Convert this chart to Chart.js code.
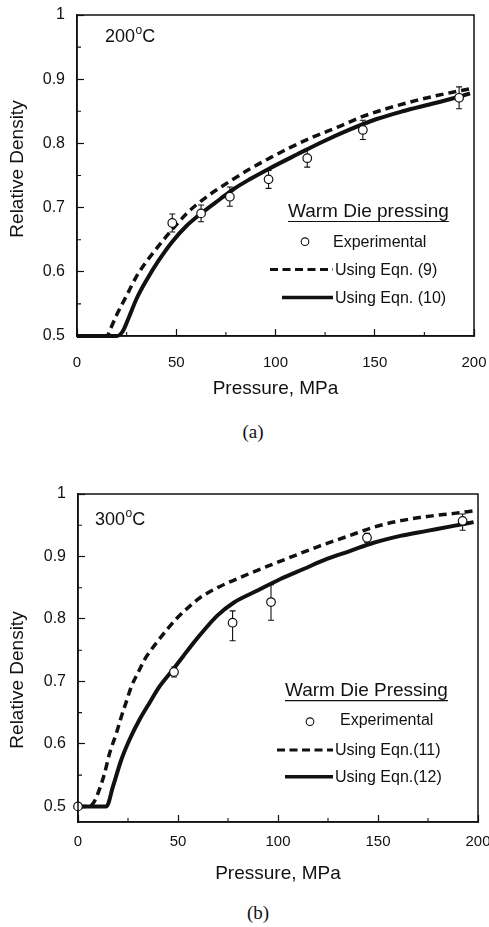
<!DOCTYPE html>
<html>
<head>
<meta charset="utf-8">
<script src="https://cdn.jsdelivr.net/npm/chart.js@4.4.0/dist/chart.umd.min.js"></script>
<style>
  html, body { margin: 0; padding: 0; background: #fff; }
  body { width: 489px; height: 927px; position: relative; overflow: hidden; }
  canvas { position: absolute; left: 0; }
  #chartA { top: 0; }
  #chartB { top: 463px; }
  .cap { position: absolute; font-family: 'Liberation Serif', 'Times New Roman', serif; font-size: 19px; color: #111; transform: translate(-50%, -50%); }
</style>
</head>
<body>
<canvas id="chartA" width="489" height="410"></canvas>
<canvas id="chartB" width="489" height="437"></canvas>
<div class="cap" style="left:253px;top:432px">(a)</div>
<div class="cap" style="left:258px;top:913px">(b)</div>
<script>
// --- (a) 200°C ---
const pressA = [48, 62.5, 77, 96.5, 116, 144, 192.5];
const densA  = [0.676, 0.691, 0.717, 0.744, 0.777, 0.821, 0.871];
const errA   = [0.014, 0.013, 0.015, 0.014, 0.014, 0.015, 0.017];
const eq9P  = [0, 15, 17, 20, 25, 30, 35, 40, 45, 50, 55, 60, 65, 70, 77, 87, 97, 107, 119, 131, 144, 158, 171, 185, 198];
const eq9D  = [0.5, 0.5, 0.512, 0.533, 0.563, 0.593, 0.616, 0.636, 0.655, 0.673, 0.690, 0.704, 0.716, 0.727, 0.741, 0.760, 0.777, 0.793, 0.810, 0.825, 0.842, 0.856, 0.867, 0.877, 0.885];
const eq10P = [0, 20, 23, 26, 30, 35, 41, 48, 55, 63, 72, 79, 87, 97, 111, 124, 137, 151, 164, 178, 193, 198];
const eq10D = [0.5, 0.5, 0.507, 0.528, 0.558, 0.587, 0.617, 0.647, 0.671, 0.692, 0.713, 0.729, 0.744, 0.761, 0.783, 0.803, 0.821, 0.838, 0.850, 0.861, 0.873, 0.878];

// --- (b) 300°C ---
const pressB = [0, 48, 77.3, 96.5, 144.5, 192.3];
const densB  = [0.5, 0.715, 0.794, 0.827, 0.930, 0.957];
const errBLo = [0, 0.008, 0.029, 0.029, 0.007, 0.015];
const errBHi = [0, 0.008, 0.019, 0.028, 0.007, 0.011];
const eq11P = [0, 6, 8, 10, 13.3, 15.8, 19.2, 21.7, 24.2, 26.7, 30, 33.3, 36.7, 40, 45, 50, 55, 61, 71, 83, 94.5, 108, 121, 134.5, 148, 161, 174.5, 188, 198];
const eq11D = [0.5, 0.5, 0.507, 0.521, 0.553, 0.585, 0.617, 0.644, 0.668, 0.692, 0.714, 0.735, 0.751, 0.765, 0.785, 0.803, 0.818, 0.834, 0.852, 0.869, 0.884, 0.901, 0.917, 0.932, 0.947, 0.957, 0.964, 0.969, 0.973];
const eq12P = [0, 14.2, 17.5, 21.7, 25.8, 30.8, 35.8, 40.8, 47.5, 52.5, 58.3, 63, 69.5, 77.8, 89.5, 101.2, 112.8, 124.5, 136.2, 147.8, 161.2, 174.5, 187.8, 197.8];
const eq12D = [0.5, 0.5, 0.532, 0.575, 0.607, 0.639, 0.666, 0.692, 0.719, 0.740, 0.764, 0.782, 0.805, 0.826, 0.845, 0.864, 0.880, 0.896, 0.909, 0.922, 0.933, 0.941, 0.949, 0.955];

// axis ticks
const xTicks = [0, 50, 100, 150, 200];
const xMinor = [25, 75, 125, 175];
const yTicks = [0.5, 0.6, 0.7, 0.8, 0.9, 1];
const yMinor = [0.55, 0.65, 0.75, 0.85, 0.95];

const INK = '#111';
const SANS = "'Liberation Sans', Arial, Helvetica, sans-serif";

const zip = (xs, ys) => xs.map((v, i) => ({ x: v, y: ys[i] }));

// error bars, frame, minor ticks, labels and legend
const panelDecor = {
  id: 'panelDecor',
  beforeDatasetDraw(chart, args, o) {
    if (args.index !== 0) return;
    const { x, y } = chart.scales;
    const ctx = chart.ctx;
    ctx.save();
    ctx.strokeStyle = INK;
    ctx.lineWidth = 1.1;
    o.press.forEach((p, i) => {
      const lo = o.errLo[i], hi = o.errHi[i];
      if (!lo && !hi) return;
      const px = x.getPixelForValue(p);
      const y1 = y.getPixelForValue(o.dens[i] + hi);
      const y2 = y.getPixelForValue(o.dens[i] - lo);
      ctx.beginPath();
      ctx.moveTo(px, y1); ctx.lineTo(px, y2);
      ctx.moveTo(px - 3, y1); ctx.lineTo(px + 3, y1);
      ctx.moveTo(px - 3, y2); ctx.lineTo(px + 3, y2);
      ctx.stroke();
    });
    ctx.restore();
  },
  afterDraw(chart, args, o) {
    const { ctx, chartArea: a } = chart;
    const { x, y } = chart.scales;
    ctx.save();
    ctx.strokeStyle = INK;
    ctx.fillStyle = INK;
    // frame
    ctx.lineWidth = 1.5;
    ctx.strokeRect(a.left, a.top, a.right - a.left, a.bottom - a.top);
    // minor ticks
    ctx.lineWidth = 1.1;
    ctx.beginPath();
    xMinor.forEach(v => {
      const px = x.getPixelForValue(v);
      ctx.moveTo(px, a.bottom); ctx.lineTo(px, a.bottom - 4);
    });
    yMinor.forEach(v => {
      const py = y.getPixelForValue(v);
      ctx.moveTo(a.left, py); ctx.lineTo(a.left + 4, py);
    });
    ctx.stroke();

    // y title
    ctx.save();
    ctx.translate(o.yTitle[0], o.yTitle[1]);
    ctx.rotate(-Math.PI / 2);
    ctx.font = `19px ${SANS}`;
    ctx.textAlign = 'center';
    ctx.textBaseline = 'middle';
    ctx.fillText('Relative Density', 0, 0);
    ctx.restore();

    // temperature label
    ctx.textAlign = 'left';
    ctx.textBaseline = 'alphabetic';
    let tx = o.temp.x;
    ctx.font = `18px ${SANS}`;
    ctx.fillText(o.temp.text, tx, o.temp.base);
    tx += ctx.measureText(o.temp.text).width + 0.5;
    ctx.font = `12px ${SANS}`;
    ctx.fillText('o', tx, o.temp.base - 8);
    tx += ctx.measureText('o').width;
    ctx.font = `18px ${SANS}`;
    ctx.fillText('C', tx, o.temp.base);

    // legend
    const L = o.legend;
    ctx.font = `19px ${SANS}`;
    ctx.fillText(L.title, L.x, L.base);
    const tw = ctx.measureText(L.title).width;
    ctx.lineWidth = 1.2;
    ctx.beginPath();
    ctx.moveTo(L.x, L.under); ctx.lineTo(L.x + tw, L.under);
    ctx.stroke();
    ctx.font = `16px ${SANS}`;
    L.rows.forEach(r => {
      if (r.kind === 'circle') {
        ctx.lineWidth = 1.1;
        ctx.beginPath();
        ctx.arc(r.mx, r.my, 3.8, 0, Math.PI * 2);
        ctx.stroke();
      } else {
        ctx.lineWidth = r.kind === 'dash' ? 3 : 3.5;
        ctx.setLineDash(r.kind === 'dash' ? [8, 4.5] : []);
        ctx.beginPath();
        ctx.moveTo(r.x1, r.my); ctx.lineTo(r.x2, r.my);
        ctx.stroke();
        ctx.setLineDash([]);
      }
      ctx.fillText(r.text, r.tx, r.base);
    });
    ctx.restore();
  }
};

function makeChart(id, c) {
  return new Chart(document.getElementById(id), {
    type: 'line',
    data: {
      datasets: [
        { label: 'Experimental', data: zip(c.press, c.dens), showLine: false, order: 0,
          pointStyle: 'circle', pointRadius: 4.3, pointBorderWidth: 1.2,
          pointBorderColor: INK, pointBackgroundColor: '#fff', clip: false },
        { label: c.dashLabel, data: zip(c.dashP, c.dashD), order: 1,
          borderColor: INK, borderWidth: 3.5, borderDash: [8, 5], pointRadius: 0,
          cubicInterpolationMode: 'monotone', clip: false },
        { label: c.solidLabel, data: zip(c.solidP, c.solidD), order: 2,
          borderColor: INK, borderWidth: 4, pointRadius: 0,
          cubicInterpolationMode: 'monotone', clip: false }
      ]
    },
    options: {
      responsive: false,
      animation: false,
      events: [],
      layout: { padding: { top: c.padTop, right: c.padRight, left: 0, bottom: 0 } },
      plugins: {
        legend: { display: false },
        tooltip: { enabled: false },
        panelDecor: c.decor
      },
      scales: {
        x: {
          type: 'linear', min: 0, max: 200,
          afterBuildTicks: s => { s.ticks = xTicks.map(v => ({ value: v })); },
          afterFit: s => { s.height = c.xAxisH; s.paddingLeft = 0; s.paddingRight = 0; },
          grid: { drawOnChartArea: false, tickLength: -7, tickWidth: 1.2, tickColor: INK },
          border: { color: INK, width: 1.5 },
          ticks: { color: INK, font: { family: SANS, size: 15 }, padding: c.xTickPad,
                   maxRotation: 0, autoSkip: false, callback: v => String(v) },
          title: { display: true, text: 'Pressure, MPa', color: INK,
                   font: { family: SANS, size: 19 }, padding: { top: 0, bottom: c.xTitlePad } }
        },
        y: {
          type: 'linear', min: c.yMin, max: 1,
          afterBuildTicks: s => { s.ticks = yTicks.map(v => ({ value: v })); },
          afterFit: s => { s.width = c.yAxisW; s.paddingTop = 0; s.paddingBottom = 0; },
          grid: { drawOnChartArea: false, tickLength: -7, tickWidth: 1.2, tickColor: INK },
          border: { color: INK, width: 1.5 },
          ticks: { color: INK, font: { family: SANS, size: 16 }, padding: 19, autoSkip: false,
                   callback: v => v === 1 ? '1' : v.toFixed(1) }
        }
      }
    },
    plugins: [panelDecor]
  });
}

makeChart('chartA', {
  press: pressA, dens: densA,
  dashP: eq9P, dashD: eq9D, dashLabel: 'Using Eqn. (9)',
  solidP: eq10P, solidD: eq10D, solidLabel: 'Using Eqn. (10)',
  yMin: 0.5, padTop: 15, padRight: 15, xAxisH: 74, yAxisW: 77, xTickPad: 25, xTitlePad: 9.6,
  decor: {
    press: pressA, dens: densA, errLo: errA, errHi: errA,
    yTitle: [18, 169],
    temp: { text: '200', x: 105, base: 41.7 },
    legend: {
      title: 'Warm Die pressing', x: 288, base: 217, under: 221.5,
      rows: [
        { kind: 'circle', mx: 305, my: 241.7, tx: 333, base: 247, text: 'Experimental' },
        { kind: 'dash', x1: 270, x2: 333, my: 269.5, tx: 335, base: 275, text: 'Using Eqn. (9)' },
        { kind: 'solid', x1: 282, x2: 333, my: 297.5, tx: 335, base: 303, text: 'Using Eqn. (10)' }
      ]
    }
  }
});

makeChart('chartB', {
  press: pressB, dens: densB,
  dashP: eq11P, dashD: eq11D, dashLabel: 'Using Eqn.(11)',
  solidP: eq12P, solidD: eq12D, solidLabel: 'Using Eqn.(12)',
  yMin: 0.475, padTop: 31, padRight: 11, xAxisH: 78, yAxisW: 78, xTickPad: 18, xTitlePad: 14.6,
  decor: {
    press: pressB, dens: densB, errLo: errBLo, errHi: errBHi,
    yTitle: [18, 217],
    temp: { text: '300', x: 95, base: 62 },
    legend: {
      title: 'Warm Die Pressing', x: 285, base: 233, under: 237.7,
      rows: [
        { kind: 'circle', mx: 310, my: 258.7, tx: 340, base: 262, text: 'Experimental' },
        { kind: 'dash', x1: 277, x2: 333, my: 287, tx: 335, base: 292, text: 'Using Eqn.(11)' },
        { kind: 'solid', x1: 285, x2: 333, my: 313.7, tx: 335, base: 319.3, text: 'Using Eqn.(12)' }
      ]
    }
  }
});
</script>
</body>
</html>
